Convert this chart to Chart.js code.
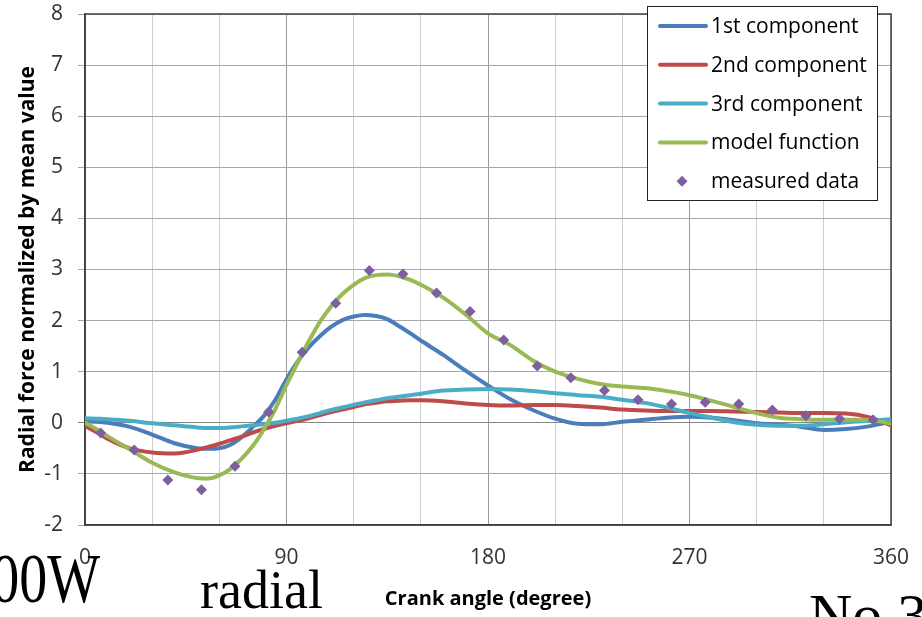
<!DOCTYPE html>
<html>
<head>
<meta charset="utf-8">
<script src="https://cdn.jsdelivr.net/npm/chart.js@4/dist/chart.umd.min.js"></script>
<style>
    body { margin: 0; background: #fff; }
    #wrap { position: relative; width: 922px; height: 617px; overflow: hidden; }
    .slide { position: absolute; font-family: "Liberation Serif", serif; color: #000; white-space: nowrap; line-height: 1; }
</style>
</head>
<body>
<div id="wrap">
    <canvas id="forceChart" width="922" height="617"></canvas>
    <div class="slide" style="right:822px; top:543px; font-size:56px; transform:scaleY(1.25); transform-origin:right top;">00W</div>
    <div class="slide" style="left:200px; top:563px; font-size:54px;">radial</div>
    <div class="slide" style="left:809px; top:585px; font-size:60px;">No 3</div>
</div>
<script>
// 曲柄角（度）
var angles = [0, 5, 10, 20, 30, 40, 50, 55, 60, 65, 70, 75, 80, 85, 90, 95, 100, 105, 110, 115,
    120, 125, 130, 135, 140, 145, 150, 160, 170, 180, 190, 200, 210, 220, 230, 240, 250, 260,
    270, 280, 290, 300, 310, 320, 330, 340, 350, 360];

// 各分量（按平均值归一化）
var firstComp = [0.03, 0.02, 0.0, -0.08, -0.23, -0.40, -0.50, -0.51, -0.50, -0.43, -0.28, -0.08, 0.14, 0.45, 0.85, 1.20, 1.48, 1.70, 1.88, 2.01,
    2.08, 2.11, 2.09, 2.03, 1.90, 1.76, 1.61, 1.33, 1.02, 0.73, 0.46, 0.25, 0.08, -0.02, -0.03, 0.02, 0.06, 0.10,
    0.12, 0.10, 0.05, -0.01, -0.04, -0.08, -0.14, -0.12, -0.07, 0.02];
var secondComp = [-0.06, -0.18, -0.31, -0.50, -0.58, -0.60, -0.53, -0.47, -0.41, -0.34, -0.27, -0.19, -0.12, -0.06, -0.01, 0.04, 0.09, 0.15, 0.21, 0.26,
    0.31, 0.36, 0.39, 0.42, 0.43, 0.44, 0.44, 0.42, 0.38, 0.35, 0.34, 0.35, 0.35, 0.33, 0.30, 0.26, 0.24, 0.23,
    0.23, 0.23, 0.22, 0.21, 0.20, 0.19, 0.19, 0.18, 0.11, -0.05];
var thirdComp = [0.09, 0.08, 0.07, 0.04, -0.01, -0.05, -0.09, -0.10, -0.10, -0.09, -0.07, -0.05, -0.03, 0.0, 0.04, 0.08, 0.13, 0.19, 0.25, 0.30,
    0.35, 0.40, 0.44, 0.48, 0.51, 0.54, 0.57, 0.63, 0.65, 0.66, 0.65, 0.62, 0.58, 0.54, 0.51, 0.45, 0.39, 0.30,
    0.19, 0.10, 0.01, -0.04, -0.06, -0.06, -0.03, 0.01, 0.04, 0.07];
var modelFunc = [0.0, -0.12, -0.26, -0.52, -0.78, -0.97, -1.08, -1.09, -1.03, -0.90, -0.70, -0.45, -0.12, 0.27, 0.74, 1.18, 1.60, 1.98, 2.28, 2.52,
    2.70, 2.83, 2.89, 2.90, 2.87, 2.80, 2.70, 2.45, 2.12, 1.75, 1.52, 1.22, 1.00, 0.86, 0.76, 0.71, 0.68, 0.62,
    0.54, 0.43, 0.31, 0.19, 0.10, 0.07, 0.06, 0.06, 0.06, -0.02];

// 实测数据
var measAngles = [7, 22, 37, 52, 67, 82, 97, 112, 127, 142, 157, 172, 187, 202, 217, 232, 247, 262, 277, 292, 307, 322, 337, 352];
var measValues = [-0.20, -0.53, -1.12, -1.31, -0.85, 0.21, 1.38, 2.34, 2.98, 2.91, 2.54, 2.18, 1.62, 1.11, 0.88, 0.63, 0.45, 0.37, 0.40, 0.37, 0.25, 0.14, 0.08, 0.06];

var seriesNames = ['1st component', '2nd component', '3rd component', 'model function', 'measured data'];
var seriesColors = ['#4A7EBB', '#BE4B48', '#4BACC6', '#98B954', '#7D5FA0'];

var xTickLabels = [0, 90, 180, 270, 360];

var FONT = 'Open Sans';

function toPoints(xs, ys) {
    return xs.map(function(x, i) { return { x: x, y: ys[i] }; });
}

function lineSet(idx, values) {
    return {
        label: seriesNames[idx],
        data: toPoints(angles, values),
        showLine: true,
        borderColor: seriesColors[idx],
        backgroundColor: seriesColors[idx],
        borderWidth: 4,
        pointRadius: 0,
        cubicInterpolationMode: 'monotone',
        borderCapStyle: 'round',
        order: 4 - idx
    };
}

// 绘图区外框
var framePlugin = {
    id: 'frame',
    beforeDatasetsDraw: function(chart) {
        var a = chart.chartArea, ctx = chart.ctx;
        ctx.save();
        ctx.strokeStyle = '#404040';
        ctx.lineWidth = 1.5;
        ctx.strokeRect(a.left, a.top, a.right - a.left, a.bottom - a.top);
        ctx.restore();
    }
};

// 图例（放在绘图区右上角）
var legendPlugin = {
    id: 'boxLegend',
    afterDraw: function(chart) {
        var ctx = chart.ctx;
        var bx = 647, by = 6, bw = 230, bh = 194;
        ctx.save();
        ctx.fillStyle = '#fff';
        ctx.fillRect(bx, by, bw, bh);
        ctx.strokeStyle = '#222';
        ctx.lineWidth = 1;
        ctx.strokeRect(bx + 0.5, by + 0.5, bw, bh);
        ctx.font = '21px "' + FONT + '"';
        ctx.textBaseline = 'middle';
        ctx.fillStyle = '#000';
        chart.data.datasets.forEach(function(ds, i) {
            var y = by + 20 + i * 38.8;
            if (ds.showLine) {
                ctx.strokeStyle = ds.borderColor;
                ctx.lineWidth = 4;
                ctx.lineCap = 'round';
                ctx.beginPath();
                ctx.moveTo(660, y);
                ctx.lineTo(706, y);
                ctx.stroke();
            } else {
                ctx.fillStyle = ds.backgroundColor;
                ctx.beginPath();
                ctx.moveTo(682 - 5.5, y);
                ctx.lineTo(682, y - 5.5);
                ctx.lineTo(682 + 5.5, y);
                ctx.lineTo(682, y + 5.5);
                ctx.closePath();
                ctx.fill();
            }
            ctx.fillStyle = '#000';
            ctx.fillText(ds.label, 711, y + 1);
        });
        ctx.restore();
    }
};

var ctx = document.getElementById('forceChart');
new Chart(ctx, {
    type: 'scatter',
    data: {
        datasets: [
            lineSet(0, firstComp),
            lineSet(1, secondComp),
            lineSet(2, thirdComp),
            lineSet(3, modelFunc),
            {
                label: seriesNames[4],
                data: toPoints(measAngles, measValues),
                showLine: false,
                pointStyle: 'rectRot',
                pointRadius: 5.5,
                borderWidth: 0,
                backgroundColor: seriesColors[4],
                borderColor: seriesColors[4],
                order: 0
            }
        ]
    },
    options: {
        responsive: false,
        animation: false,
        layout: { padding: 0 },
        plugins: {
            legend: { display: false },
            tooltip: { enabled: false }
        },
        scales: {
            x: {
                type: 'linear',
                min: 0,
                max: 360,
                // 固定轴高度和右侧留白
                afterFit: function(s) { s.height = 92; s.paddingLeft = 0; s.paddingRight = 31; },
                ticks: {
                    stepSize: 30,
                    autoSkip: false,
                    maxRotation: 0,
                    padding: 20,
                    color: '#333',
                    font: { family: FONT, size: 21 },
                    callback: function(v) { return xTickLabels.indexOf(v) >= 0 ? v : ''; }
                },
                grid: {
                    drawTicks: false,
                    color: function(c) { return c.tick && c.tick.value % 90 === 0 ? '#9a9a9a' : '#cdcdcd'; }
                },
                border: { color: '#404040', width: 1.5 },
                title: {
                    display: true,
                    text: 'Crank angle (degree)',
                    color: '#000',
                    font: { family: FONT, size: 20, weight: 'bold' },
                    padding: { top: 0, bottom: 6 }
                }
            },
            y: {
                min: -2,
                max: 8,
                // 固定轴宽度和顶部留白
                afterFit: function(s) { s.width = 85; s.paddingTop = 14; s.paddingBottom = 0; },
                ticks: {
                    stepSize: 1,
                    padding: 15,
                    color: '#333',
                    font: { family: FONT, size: 21 }
                },
                grid: {
                    tickLength: 7,
                    color: function(c) { return c.tick && c.tick.value === 0 ? '#858585' : '#a8a8a8'; }
                },
                border: { color: '#404040', width: 1.5 },
                title: {
                    display: true,
                    text: 'Radial force normalized by mean value',
                    color: '#000',
                    font: { family: FONT, size: 21, weight: 'bold' },
                    padding: { top: 15, bottom: 0 }
                }
            }
        }
    },
    plugins: [framePlugin, legendPlugin]
});
</script>
</body>
</html>
